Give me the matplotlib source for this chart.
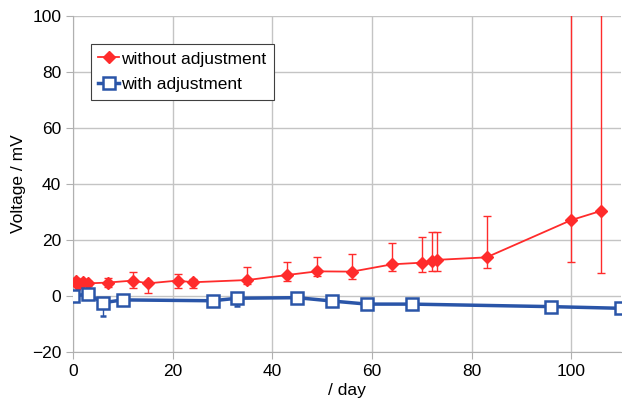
import numpy as np
import matplotlib.pyplot as plt
from matplotlib.lines import Line2D

plt.rcParams['font.family'] = ['Liberation Sans', 'DejaVu Sans']

# without adjustment
day_a = [0.5, 1, 2, 3, 7, 12, 15, 21, 24, 35, 43, 49, 56, 64, 70, 72, 73, 83, 100, 106]
volt_a = [5.5, 4.0, 5.0, 4.5, 4.8, 5.5, 4.5, 5.5, 4.9, 5.7, 7.5, 8.8, 8.7, 11.3, 11.9, 12.6, 12.9, 13.8, 27.1, 30.4]
err_a_lo = [1.0, 3.5, 1.0, 1.0, 1.5, 2.6, 3.5, 2.7, 2.0, 1.5, 2.0, 1.8, 2.5, 2.3, 3.2, 3.6, 3.9, 3.7, 14.8, 22.1]
err_a_hi = [1.0, 1.5, 1.0, 1.0, 1.8, 3.2, 0.5, 2.5, 1.0, 4.8, 4.8, 5.3, 6.3, 7.5, 9.3, 10.4, 10.1, 14.8, 120, 120]

# with adjustment
day_b = [0, 3, 6, 10, 28, 33, 45, 52, 59, 68, 96, 110]
volt_b = [0.1, 0.6, -2.4, -1.4, -1.7, -0.8, -0.6, -1.8, -2.9, -2.9, -3.8, -4.4]
err_b_lo = [0, 1.5, 4.7, 0, 0, 2.8, 0, 0, 0, 0, 0, 0]
err_b_hi = [0, 0, 0, 0, 0, 0, 0, 0, 0, 0, 0, 0]

fig = plt.figure(figsize=(6.22, 4.05), dpi=100)
ax = fig.add_axes([0.1174, 0.1309, 0.8810, 0.8296])

red = '#ff2b2b'
blue = '#2a55a8'

ax.errorbar(day_a, volt_a, yerr=[err_a_lo, err_a_hi], color=red, lw=1.3,
            marker='D', ms=6.5, mfc=red, mec=red, ecolor=red, elinewidth=1,
            capsize=3, capthick=1, zorder=3)
ax.errorbar(day_b, volt_b, yerr=[err_b_lo, err_b_hi], color=blue, lw=2.5,
            marker='s', ms=9, mfc='white', mec=blue, mew=1.8, ecolor=blue,
            elinewidth=1, capsize=2.5, capthick=1, zorder=4)

ax.set_xlim(0, 110)
ax.set_ylim(-20, 100)
ax.set_xticks(np.arange(0, 101, 20))
ax.set_yticks(np.arange(-20, 101, 20))
ax.grid(True, color='#c4c4c4', lw=1)
ax.set_axisbelow(True)
for s in ['top', 'right']:
    ax.spines[s].set_visible(False)
for s in ['left', 'bottom']:
    ax.spines[s].set_color('#b0b0b0')
ax.tick_params(axis='both', colors='#b0b0b0', labelcolor='black', labelsize=12.5, length=5)
ax.set_xlabel('/ day', fontsize=12.5, labelpad=3)
ax.set_ylabel('Voltage / mV', fontsize=12.5, labelpad=4)

handles = [
    Line2D([], [], color=red, lw=1.3, marker='D', ms=6, mfc=red, mec=red),
    Line2D([], [], color=blue, lw=2.5, marker='s', ms=8, mfc='white', mec=blue, mew=1.8),
]
leg = ax.legend(handles, ['without adjustment', 'with adjustment'],
                loc='upper left', bbox_to_anchor=(0.032, 0.918), fontsize=12.5,
                handlelength=1.2, handletextpad=0.1, borderpad=0.45,
                labelspacing=0.6, borderaxespad=0,
                fancybox=False, framealpha=1, edgecolor='#404040')
leg.get_frame().set_linewidth(0.8)

fig.savefig('out.png', dpi=100)
